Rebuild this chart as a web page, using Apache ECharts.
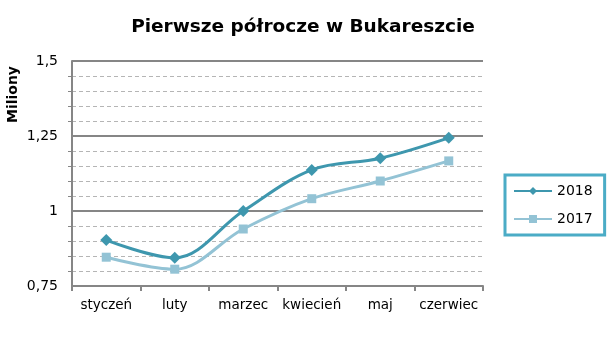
<!DOCTYPE html>
<html><head><meta charset="utf-8">
<script src="https://cdn.jsdelivr.net/npm/echarts@6/dist/echarts.min.js"></script>
<style>html,body{margin:0;padding:0;background:#fff}#c{width:608px;height:360px}</style>
</head><body><div id="c"></div>
<script>
const categories = ['styczeń','luty','marzec','kwiecień','maj','czerwiec'];
const values2018 = [0.903, 0.844, 1.0, 1.137, 1.176, 1.244];
const values2017 = [0.846, 0.806, 0.94, 1.041, 1.10, 1.167];
const seriesNames = ['2018','2017'];
const titleText = 'Pierwsze półrocze w Bukareszcie';
const yAxisTitle = 'Miliony';

const FONT = '"DejaVu Sans", sans-serif';
const c2018 = '#3e97ae', c2017 = '#93c3d5';
const chart = echarts.init(document.getElementById('c'), null, {renderer:'canvas'});
chart.setOption({
  animation:false,
  backgroundColor:'#fff',
  title:{text:titleText,left:298,top:13,textAlign:'center',
    textStyle:{fontFamily:FONT,fontWeight:'bold',fontSize:18.5,color:'#000'}},
  graphic:[{type:'text',left:6,top:66,rotation:Math.PI/2,
    style:{text:yAxisTitle,font:'bold 14px '+FONT,fill:'#000'}}],
  legend:{orient:'vertical',left:505,top:175,itemWidth:38,itemHeight:10,itemGap:14,
    padding:[9,12,9,8],borderColor:'#4bacc6',borderWidth:3,
    textStyle:{fontFamily:FONT,fontSize:14,color:'#000'},data:seriesNames},
  grid:{left:72,right:125,top:61,bottom:74},
  xAxis:{type:'category',data:categories,boundaryGap:true,
    axisLine:{lineStyle:{color:'#868686',width:2}},
    axisTick:{show:true,length:5,lineStyle:{color:'#868686',width:2}},
    axisLabel:{fontFamily:FONT,fontSize:13.5,color:'#000',margin:12,interval:0}},
  yAxis:{type:'value',min:0.75,max:1.5,interval:0.25,
    axisLine:{show:true,lineStyle:{color:'#868686',width:2}},
    axisTick:{show:false},
    minorTick:{show:true,splitNumber:5,length:4,lineStyle:{color:'#868686'}},
    splitLine:{lineStyle:{color:'#868686',width:2}},
    minorSplitLine:{show:true,lineStyle:{color:'#b5b5b5',type:[4,3],width:1}},
    axisLabel:{fontFamily:FONT,fontSize:14,color:'#000',margin:14,
      formatter:v=>String(+v.toFixed(2)).replace('.',',')}},
  series:[
    {name:seriesNames[0],type:'line',data:values2018,smooth:0.35,symbol:'diamond',symbolSize:12,
     lineStyle:{color:c2018,width:3},itemStyle:{color:c2018},z:3},
    {name:seriesNames[1],type:'line',data:values2017,smooth:0.35,symbol:'rect',symbolSize:9,
     lineStyle:{color:c2017,width:3},itemStyle:{color:c2017},z:2}
  ]
});
</script></body></html>
